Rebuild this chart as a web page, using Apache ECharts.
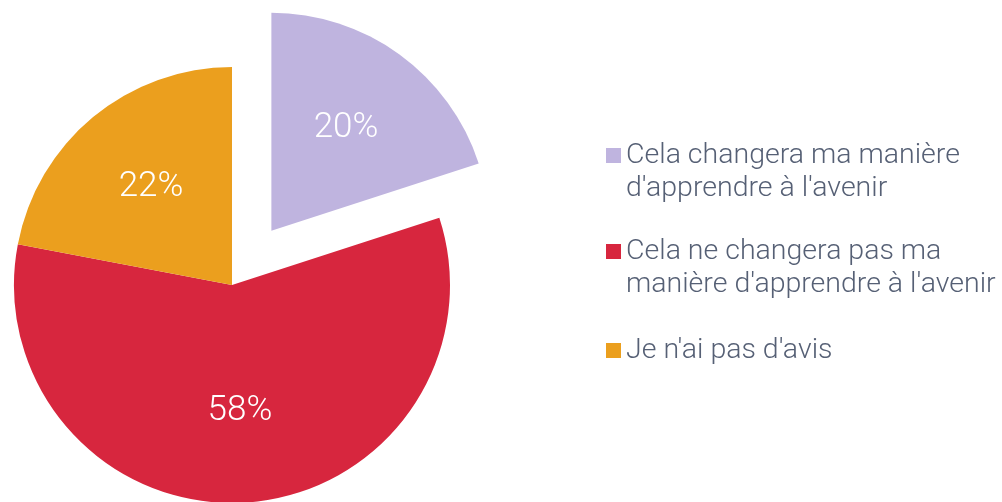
<!DOCTYPE html>
<html><head><meta charset="utf-8">
<script src="https://cdn.jsdelivr.net/npm/echarts@6/dist/echarts.min.js"></script>
<style>html,body{margin:0;padding:0;background:#fff}#c{width:1002px;height:502px}</style>
</head><body><div id="c"></div>
<script>
const categories = [
  "Cela changera ma manière d'apprendre à l'avenir",
  "Cela ne changera pas ma manière d'apprendre à l'avenir",
  "Je n'ai pas d'avis"
];
const legendLines = [
  "Cela changera ma manière\nd'apprendre à l'avenir",
  "Cela ne changera pas ma\nmanière d'apprendre à l'avenir",
  "Je n'ai pas d'avis"
];
const values = [20, 58, 22];
const colors = ['#bfb4df', '#d7263e', '#eb9f1e'];

const FONT = 'Roboto';
const textColor = '#566075';
const LH = 33;

const data = categories.map((n, i) => ({
  name: n, value: values[i], selected: i === 0,
  itemStyle: { color: colors[i] }
}));
const labelData = categories.map((n, i) => ({
  name: n, value: values[i], selected: i === 0
}));

const legendTops = [106, 202, 334];
const legends = categories.map((n, i) => {
  const multi = legendLines[i].indexOf('\n') >= 0;
  return {
    orient: 'vertical', left: 606, top: legendTops[i], padding: 0,
    itemWidth: 15, itemHeight: 15, itemGap: 0, icon: 'rect',
    data: [n],
    formatter: () => (multi ? ' \n' : '') + legendLines[i],
    textStyle: {
      fontFamily: FONT, fontWeight: 300, fontSize: 28.5, lineHeight: LH, color: textColor
    }
  };
});

const chart = echarts.init(document.getElementById('c'), null, { renderer: 'canvas' });
chart.setOption({
  animation: false,
  legend: legends,
  series: [
    {
      type: 'pie', center: [232, 285], radius: 218, startAngle: 90, clockwise: true,
      selectedMode: 'single', selectedOffset: 67,
      label: { show: false }, labelLine: { show: false },
      emphasis: { disabled: true },
      data: data
    },
    {
      type: 'pie', center: [232, 285], radius: 248, startAngle: 90, clockwise: true,
      selectedMode: 'single', selectedOffset: 67, silent: true, legendHoverLink: false,
      itemStyle: { color: 'rgba(0,0,0,0)' },
      label: {
        show: true, position: 'inside', formatter: '{c}%',
        fontFamily: FONT, fontWeight: 300, fontSize: 35, color: '#ffffff'
      },
      labelLine: { show: false },
      emphasis: { disabled: true },
      data: labelData
    }
  ]
});
</script>
</body></html>
